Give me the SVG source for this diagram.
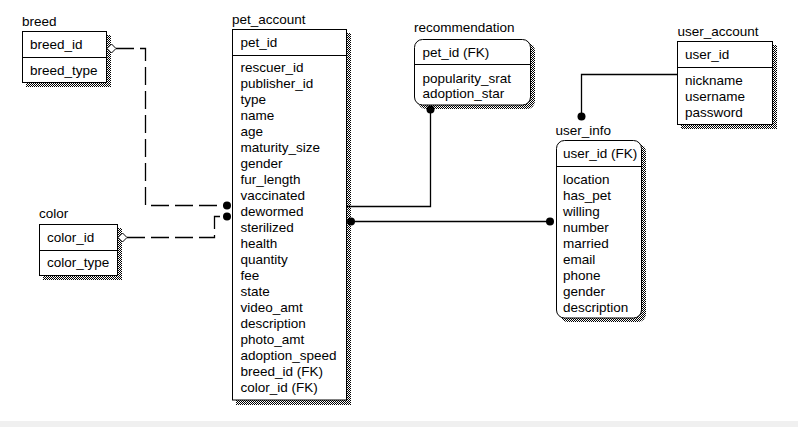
<svg xmlns="http://www.w3.org/2000/svg" width="798" height="427" viewBox="0 0 798 427">
<defs>
<pattern id="sh" width="2" height="2" patternUnits="userSpaceOnUse">
<rect width="2" height="2" fill="#fff"/>
<rect width="1" height="1" fill="#000"/>
<rect x="1" y="1" width="1" height="1" fill="#000"/>
</pattern>
<style>
text{font-family:"Liberation Sans",Arial,sans-serif;font-size:13.5px;fill:#000}
.box{fill:#fff;stroke:#000;stroke-width:1}
.shadow{fill:url(#sh);stroke:none}
.div{stroke:#000;stroke-width:1}
.ln{fill:none;stroke:#000;stroke-width:1.3}
.dash{fill:none;stroke:#000;stroke-width:1.3;stroke-dasharray:18 6}
.dot{fill:#000}
.dia{fill:#fff;stroke:#000;stroke-width:1}
</style>
</defs>
<rect width="798" height="427" fill="#fff"/>
<rect x="0" y="421" width="798" height="6" fill="#f0f0f0"/>

<g id="breed">
<text x="22" y="26">breed</text>
<rect class="shadow" x="26" y="35" width="85" height="52"/>
<rect class="box" x="22.5" y="31.5" width="84" height="51"/>
<line class="div" x1="22.5" y1="57.5" x2="106.5" y2="57.5"/>
<text x="30" y="48.5">breed_id</text>
<text x="30" y="74.5">breed_type</text>
</g>

<g id="pet_account">
<text x="232" y="24">pet_account</text>
<rect class="shadow" x="236" y="33" width="115" height="372"/>
<rect class="box" x="232.5" y="29.5" width="114" height="370.5"/>
<line class="div" x1="232.5" y1="55.5" x2="346.5" y2="55.5"/>
<text x="240.5" y="46.5">pet_id</text>
<text x="240.5" y="72.3">rescuer_id</text>
<text x="240.5" y="88.3">publisher_id</text>
<text x="240.5" y="104.3">type</text>
<text x="240.5" y="120.3">name</text>
<text x="240.5" y="136.3">age</text>
<text x="240.5" y="152.3">maturity_size</text>
<text x="240.5" y="168.3">gender</text>
<text x="240.5" y="184.3">fur_length</text>
<text x="240.5" y="200.3">vaccinated</text>
<text x="240.5" y="216.3">dewormed</text>
<text x="240.5" y="232.3">sterilized</text>
<text x="240.5" y="248.3">health</text>
<text x="240.5" y="264.3">quantity</text>
<text x="240.5" y="280.3">fee</text>
<text x="240.5" y="296.3">state</text>
<text x="240.5" y="312.3">video_amt</text>
<text x="240.5" y="328.3">description</text>
<text x="240.5" y="344.3">photo_amt</text>
<text x="240.5" y="360.3">adoption_speed</text>
<text x="240.5" y="376.3">breed_id (FK)</text>
<text x="240.5" y="392.3">color_id (FK)</text>
</g>

<g id="color">
<text x="39" y="218">color</text>
<rect class="shadow" x="43" y="228" width="79" height="52"/>
<rect class="box" x="39.5" y="224.5" width="78" height="51"/>
<line class="div" x1="39.5" y1="250.5" x2="117.5" y2="250.5"/>
<text x="47" y="241.5">color_id</text>
<text x="47" y="267">color_type</text>
</g>

<g id="recommendation">
<text x="414" y="32">recommendation</text>
<rect class="shadow" x="418" y="43" width="117" height="66" rx="8"/>
<rect class="box" x="414.5" y="39.5" width="116" height="65.5" rx="8"/>
<line class="div" x1="414.5" y1="64.5" x2="530.5" y2="64.5"/>
<text x="422.5" y="56.5">pet_id (FK)</text>
<text x="422.5" y="82.5">popularity_srat</text>
<text x="422.5" y="98">adoption_star</text>
</g>

<g id="user_account">
<text x="677.5" y="36">user_account</text>
<rect class="shadow" x="681" y="45" width="96" height="84"/>
<rect class="box" x="677.5" y="41.5" width="95" height="83"/>
<line class="div" x1="677.5" y1="67.5" x2="772.5" y2="67.5"/>
<text x="685" y="58.5">user_id</text>
<text x="685" y="84.5">nickname</text>
<text x="685" y="100.5">username</text>
<text x="685" y="116.5">password</text>
</g>

<g id="user_info">
<text x="555.5" y="134.5">user_info</text>
<rect class="shadow" x="560" y="144" width="86" height="178" rx="8"/>
<rect class="box" x="556.5" y="140.5" width="85" height="177.5" rx="8"/>
<line class="div" x1="556.5" y1="166.5" x2="641.5" y2="166.5"/>
<text x="563" y="157.5">user_id (FK)</text>
<text x="563" y="184">location</text>
<text x="563" y="200">has_pet</text>
<text x="563" y="216">willing</text>
<text x="563" y="232">number</text>
<text x="563" y="248">married</text>
<text x="563" y="264">email</text>
<text x="563" y="280">phone</text>
<text x="563" y="296">gender</text>
<text x="563" y="312">description</text>
</g>

<g id="connectors">
<path class="dash" d="M116,48.5 H145.5 V205.5 H224"/>
<polygon class="dia" points="107,48.5 111.5,44 116,48.5 111.5,53"/>
<circle class="dot" cx="227" cy="205.5" r="4"/>
<path class="dash" d="M127,237.5 H214.5 V216.5 H224"/>
<polygon class="dia" points="118,237.5 122.5,233 127,237.5 122.5,242"/>
<circle class="dot" cx="227" cy="216.5" r="4"/>
<path class="ln" d="M430.5,109 V206.5 H347"/>
<circle class="dot" cx="430.5" cy="109.5" r="4"/>
<path class="ln" d="M351,221.5 H550"/>
<circle class="dot" cx="351" cy="221.5" r="4"/>
<circle class="dot" cx="550" cy="221.5" r="4"/>
<path class="ln" d="M677.5,74.5 H581.5 V116"/>
<circle class="dot" cx="581.5" cy="116.5" r="4"/>
</g>
</svg>
